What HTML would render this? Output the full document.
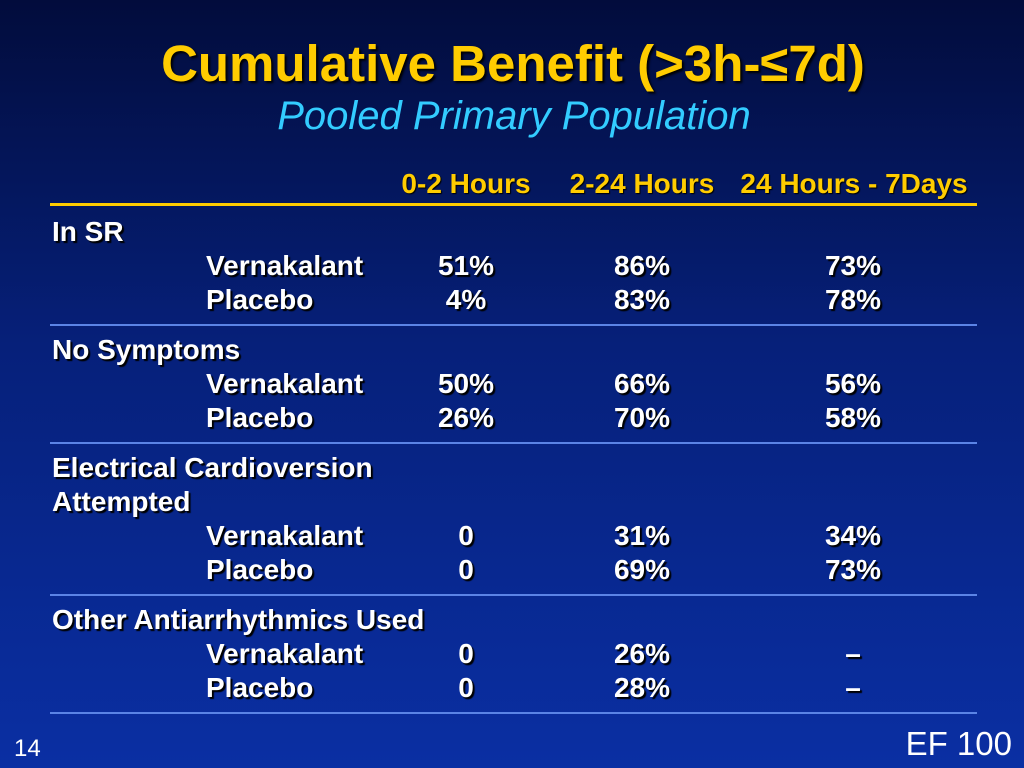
<!DOCTYPE html>
<html><head><meta charset="utf-8"><style>
body{margin:0}
#s{position:relative;width:1024px;height:768px;overflow:hidden;background:linear-gradient(180deg,#020c3c 0%,#06207a 45%,#0a2fa3 100%);font-family:"Liberation Sans",Arial,sans-serif}
.t{position:absolute;white-space:nowrap;line-height:1}
.c{transform:translateX(-50%)}
.w{color:#fff;font-weight:bold;font-size:28px;text-shadow:2px 2px 1px #000}
.y{color:#ffcc00;font-weight:bold;font-size:28px;text-shadow:1px 1px 1px #000}
.ln{position:absolute;left:50px;width:927px;height:2px;background:#5b84e6}
</style></head><body>
<div id="s">
<div class="t c" style="left:513px;top:38px;font-size:51px;font-weight:bold;color:#ffcc00;text-shadow:2px 2px 2px #000">Cumulative Benefit (&gt;3h-≤7d)</div>
<div class="t c" style="left:514px;top:96px;font-size:40px;font-style:italic;color:#33ccff">Pooled Primary Population</div>
<div class="t c y" style="left:466px;top:170px">0-2 Hours</div>
<div class="t c y" style="left:642px;top:170px">2-24 Hours</div>
<div class="t c y" style="left:854px;top:170px">24 Hours - 7Days</div>
<div style="position:absolute;left:50px;top:203px;width:927px;height:3px;background:#ffcc00"></div>
<div class="t" style="left:14px;top:737px;font-size:24px;color:#fff">14</div>
<div class="t" style="right:12px;top:727px;font-size:33px;color:#fff">EF 100</div>
</div>
<script>
const groups=["In SR","No Symptoms","Electrical Cardioversion|Attempted","Other Antiarrhythmics Used"];
const vern=[["51%","86%","73%"],["50%","66%","56%"],["0","31%","34%"],["0","26%","–"]];
const plac=[["4%","83%","78%"],["26%","70%","58%"],["0","69%","73%"],["0","28%","–"]];
const colX=[466,642,853];
const s=document.getElementById('s');
function txt(t,x,y,center){const d=document.createElement('div');d.className='t w'+(center?' c':'');d.style.left=x+'px';d.style.top=(y-14)+'px';d.textContent=t;s.appendChild(d);return d;}
let y=232;
groups.forEach((g,gi)=>{
 g.split('|').forEach(p=>{const e=txt(p,52,y,false);
 
 y+=34;});
 [["Vernakalant",vern[gi]],["Placebo",plac[gi]]].forEach(([n,vals])=>{
  const e=txt(n,206,y,false);
  
  
  vals.forEach((v,ci)=>{const c=txt(v,colX[ci],y,true);
   
   });
  y+=34;});
 const l=document.createElement('div');l.className='ln';l.style.top=(y-10)+'px';
 
 
 s.appendChild(l);
 y+=16;
});
</script>
</body></html>
